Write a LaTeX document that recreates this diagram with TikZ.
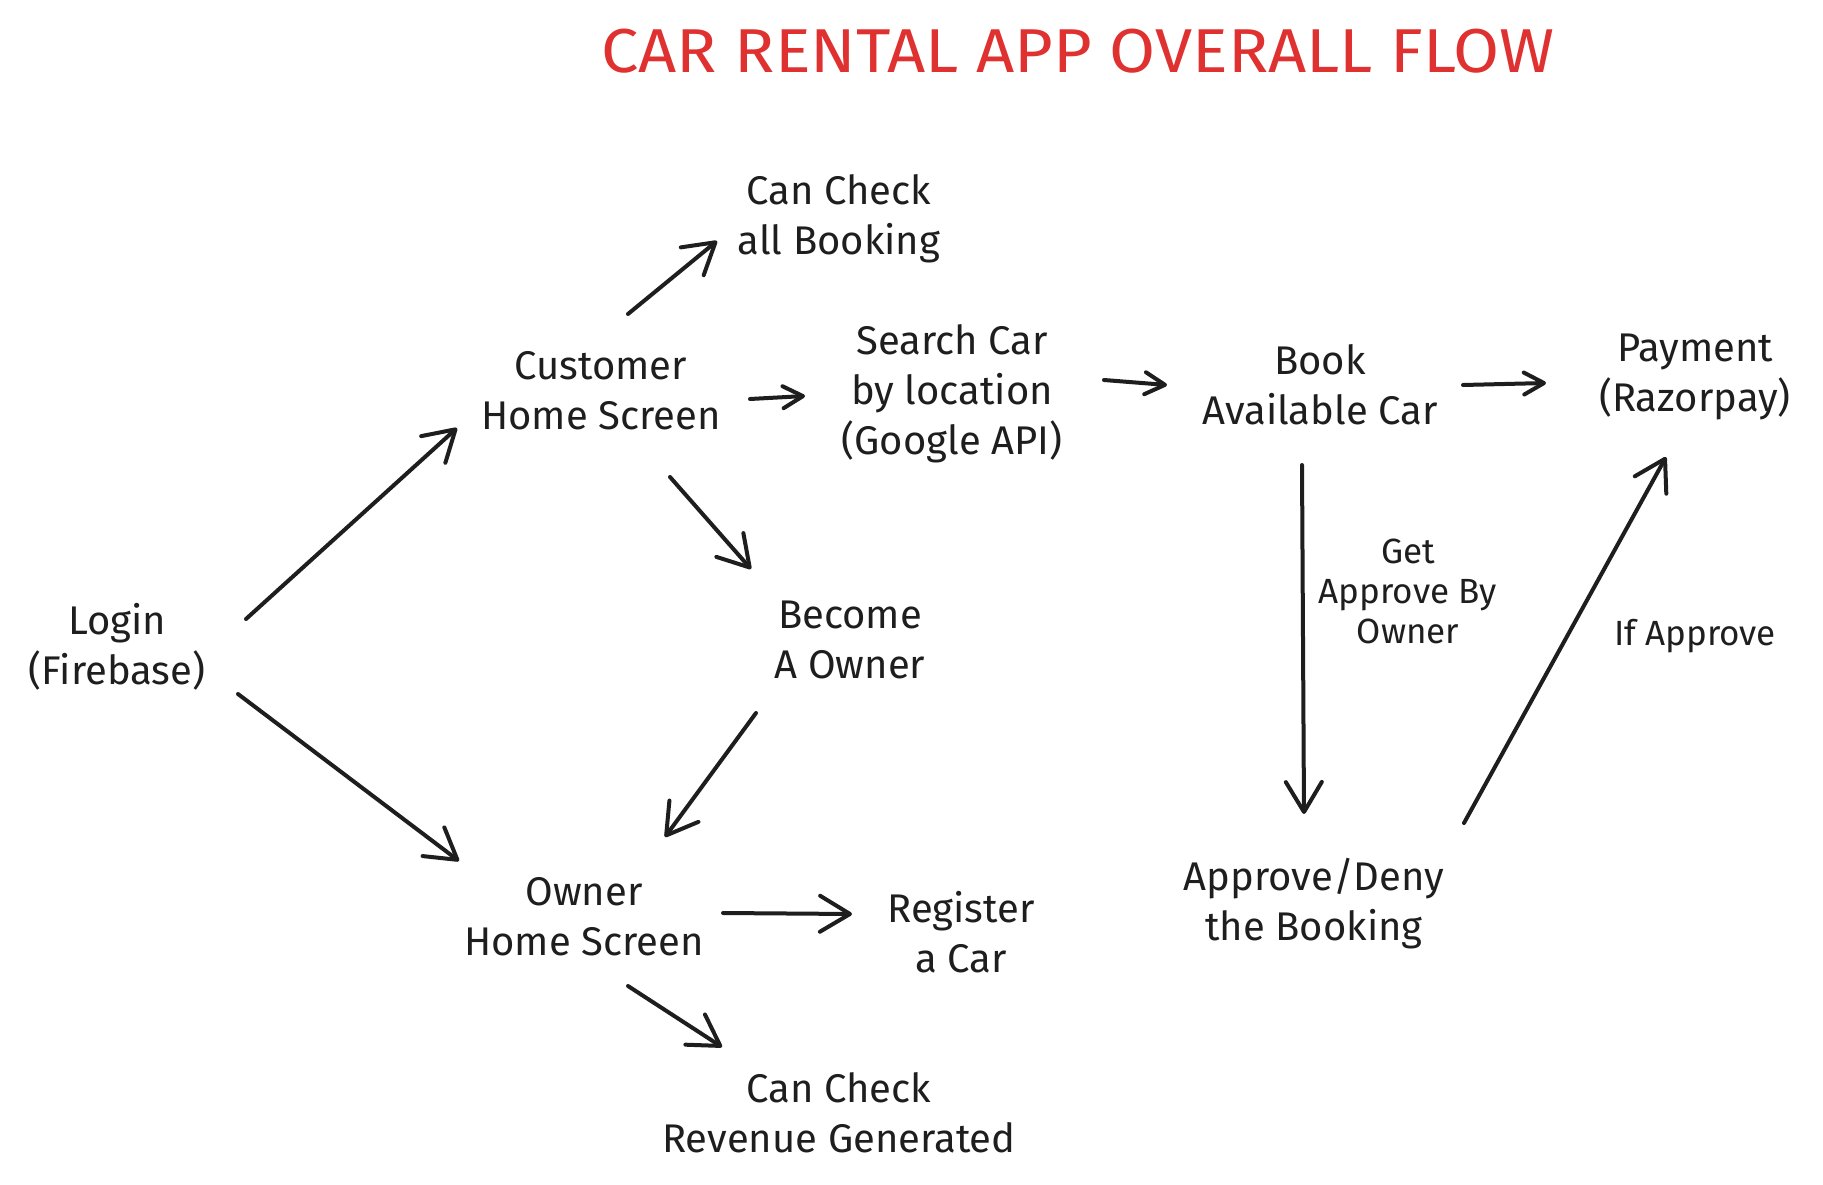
\documentclass[tikz,border=0pt]{standalone}
\usepackage{fontspec}
\setmainfont{Fira Sans}
\usetikzlibrary{arrows.meta,calc}
\definecolor{ink}{HTML}{1E1E1E}
\definecolor{titlered}{HTML}{E03131}
\tikzset{
  lbl/.style={align=center, text=ink, inner sep=0pt, font=\fontsize{40}{50}\selectfont},
  small/.style={align=center, text=ink, inner sep=0pt, font=\fontsize{35}{40}\selectfont},
  arr/.style={draw=ink, line width=4pt, line cap=round, line join=round,
    -{Straight Barb[length=30pt,width=36pt,line width=4pt,round]}},
  sarr/.style={draw=ink, line width=4pt, line cap=round, line join=round,
    -{Straight Barb[length=20pt,width=22pt,line width=4pt,round]}}
}
\begin{document}
\begin{tikzpicture}[x=1pt,y=-1pt]
\useasboundingbox[fill=white] (0,0) rectangle (1823,1185);
\node[text=titlered, inner sep=0pt, font=\fontsize{62}{70}\selectfont] (title) at (1078,51) {\scalebox{1.075}[1]{CAR RENTAL APP OVERALL FLOW}};
\node[lbl] (login) at (117,647) {Login\\(Firebase)};
\node[lbl] (cust) at (601,391) {Customer\\Home Screen};
\node[lbl] (book1) at (839,219) {Can Check\\all Booking};
\node[lbl] (search) at (952,394) {Search Car\\by location\\(Google API)};
\node[lbl] (book) at (1320,385) {Book\\Available Car};
\node[lbl] (pay) at (1695,377) {Payment\\(Razorpay)};
\node[lbl] (become) at (850,640) {Become\\A Owner};
\node[lbl] (owner) at (584,917) {Owner\\Home Screen};
\node[lbl] (reg) at (961,932) {Register\\a Car};
\node[lbl] (rev) at (839,1113) {Can Check\\Revenue Generated};
\node[lbl] (appr) at (1314,904) {Approve/Deny\\the Booking};
\node[small] (getappr) at (1408,591) {Get\\Approve By\\Owner};
\node[small] (ifappr) at (1695,636) {If Approve};

\draw[arr] ($(login)+(129,-28)$) -- ($(cust)+(-144,37)$);
\draw[arr] ($(login)+(121,47)$) -- ($(owner)+(-125,-56)$);
\draw[arr] ($(cust)+(27,-77)$) -- ($(book1)+(-122,22)$);
\draw[sarr] ($(cust)+(149,8)$) -- ($(search)+(-147,2)$);
\draw[arr] ($(cust)+(69,86)$) -- ($(become)+(-99,-71)$);
\draw[sarr] ($(search)+(152,-14)$) -- ($(book)+(-153,0)$);
\draw[sarr] ($(book)+(143,0)$) -- ($(pay)+(-149,6)$);
\draw[arr] ($(become)+(-94,73)$) -- ($(owner)+(81,-80)$);
\draw[arr] ($(owner)+(139,-4)$) -- ($(reg)+(-109,-18)$);
\draw[arr] ($(owner)+(44,69)$) -- ($(rev)+(-117,-66)$);
\draw[arr] ($(book)+(-18,80)$) -- ($(appr)+(-10,-90)$);
\draw[arr] ($(appr)+(150,-81)$) -- ($(pay)+(-29,80)$);
\end{tikzpicture}
\end{document}
